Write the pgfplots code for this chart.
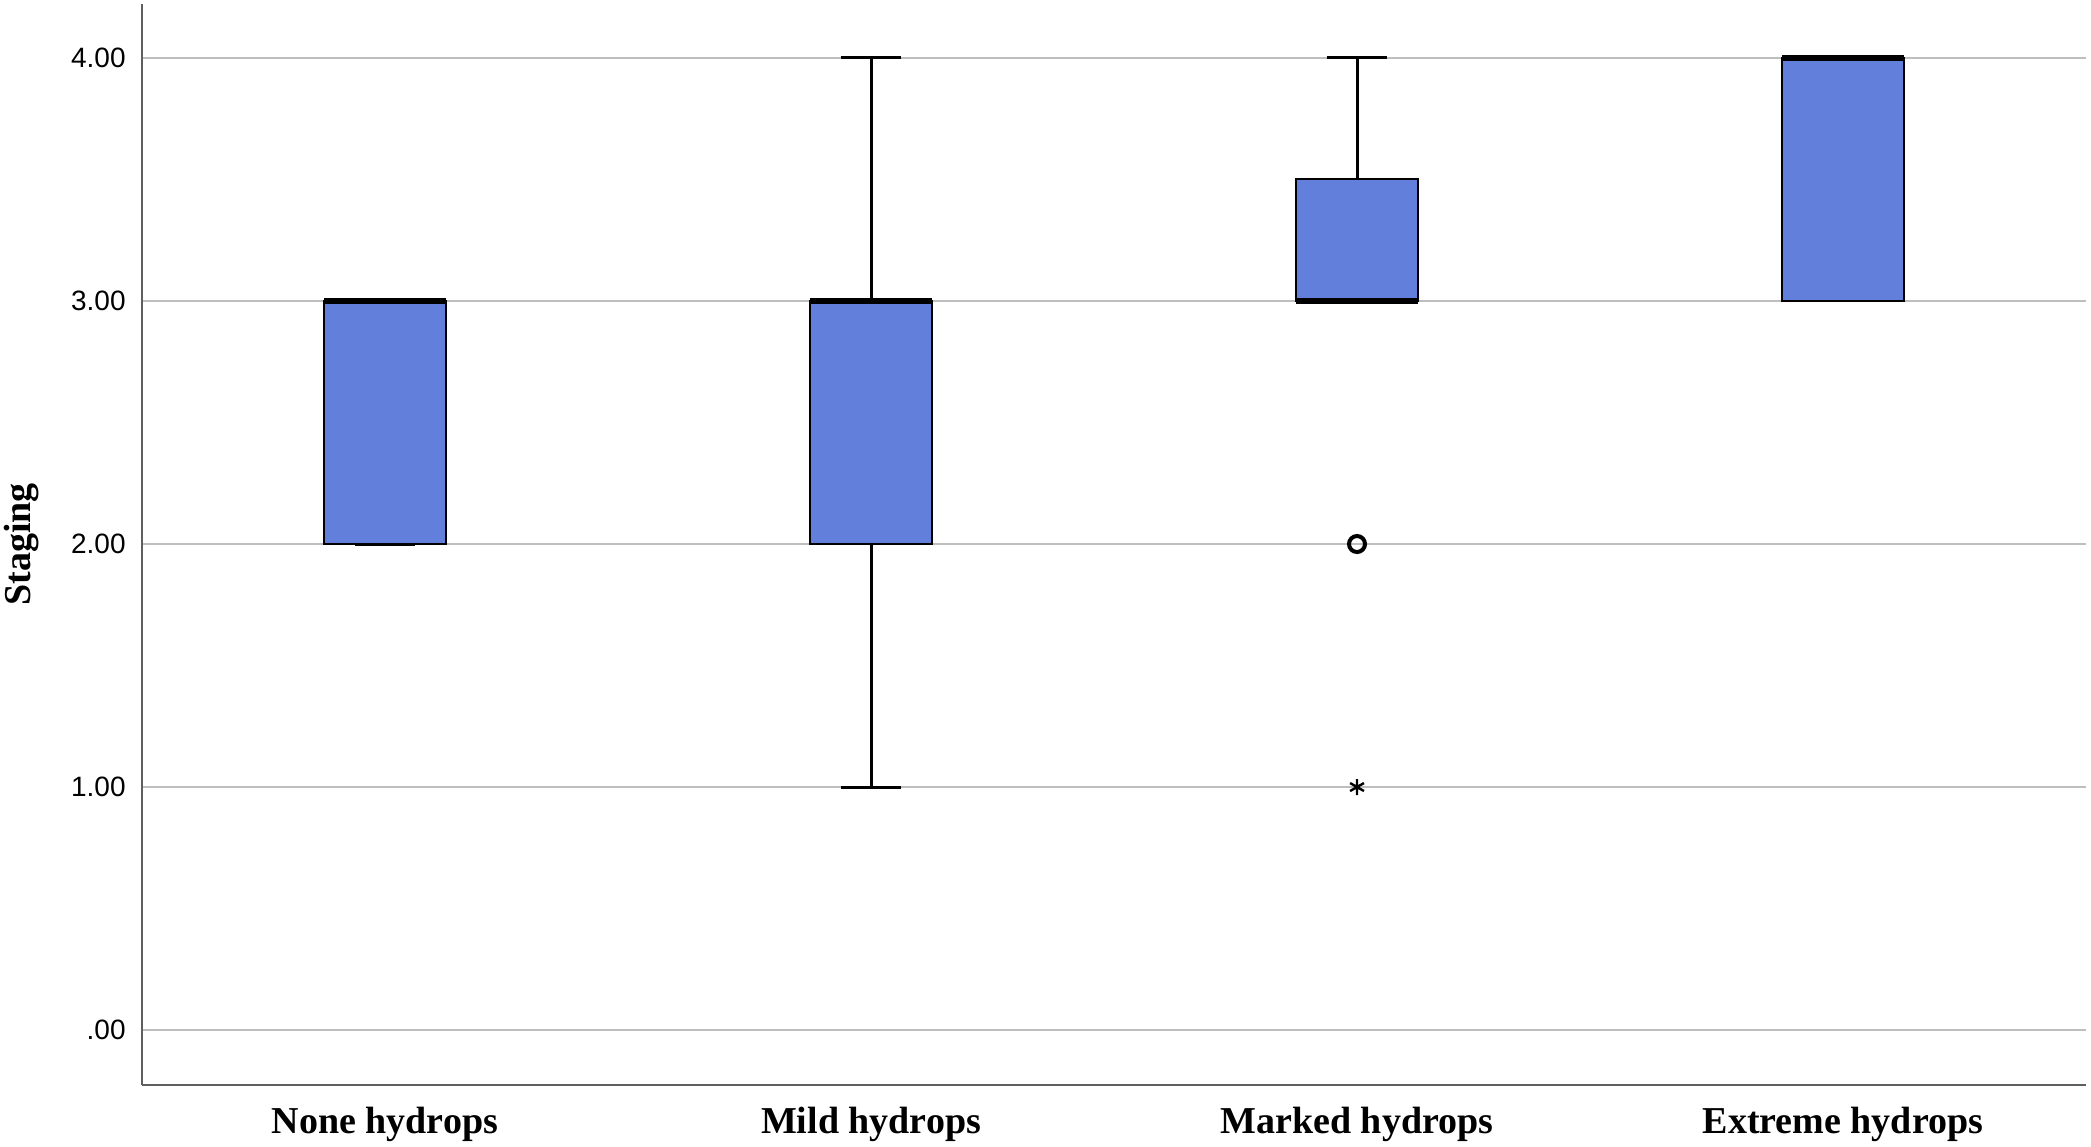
\documentclass[border=0pt]{standalone}
\usepackage{fontspec}
\setmainfont{Liberation Serif}
\newfontfamily\ticksf{Liberation Sans}
\usepackage{pgfplots}
\pgfplotsset{compat=1.18}
\usepgfplotslibrary{statistics}

\definecolor{boxblue}{RGB}{98,128,219}
\definecolor{gridgray}{RGB}{190,190,190}
\definecolor{axgray}{RGB}{95,95,95}

\begin{document}
\begin{tikzpicture}
\begin{axis}[
    name=ax,
    scale only axis,
    width=972pt, height=540.5pt,
    xmin=0.5, xmax=4.5,
    ymin=-0.226, ymax=4.222,
    axis x line=bottom, axis y line=left,
    axis line style={-, axgray, line width=1pt},
    major tick length=0pt,
    xtick={1,2,3,4},
    xticklabels={None hydrops, Mild hydrops, Marked hydrops, Extreme hydrops},
    xticklabel style={font=\bfseries\fontsize{19}{19}\selectfont, inner sep=0pt, anchor=north, yshift=-11pt},
    ytick={0,1,2,3,4},
    yticklabels={.00,1.00,2.00,3.00,4.00},
    yticklabel style={font=\ticksf\fontsize{14}{14}\selectfont, inner sep=0pt, anchor=east, xshift=-8pt},
    ylabel={Staging},
    every axis y label/.style={at={(axis description cs:0,0.5)}, rotate=90, anchor=center, yshift=60pt,
        font=\bfseries\fontsize{19}{19}\selectfont},
    ymajorgrids=true,
    grid style={gridgray, line width=1pt},
    boxplot/draw direction=y,
    boxplot/box extend=0.25,
    boxplot/whisker extend=0.125,
    boxplot/every box/.style={draw=black, fill=boxblue, line width=1pt},
    boxplot/every median/.style={draw=black, line width=2.8pt},
    boxplot/every whisker/.style={draw=black, line width=1.5pt},
]
% None hydrops
\addplot[boxplot prepared={draw position=1,
    lower whisker=2, lower quartile=2, median=3,
    upper quartile=3, upper whisker=3}] coordinates {};
% Mild hydrops
\addplot[boxplot prepared={draw position=2,
    lower whisker=1, lower quartile=2, median=3,
    upper quartile=3, upper whisker=4}] coordinates {};
% Marked hydrops
\addplot[boxplot prepared={draw position=3,
    lower whisker=3, lower quartile=3, median=3,
    upper quartile=3.5, upper whisker=4},
    mark=o, mark size=4pt, mark options={line width=2pt, black}] coordinates {(0,2)};
\addplot[only marks, mark=asterisk, mark size=4pt, mark options={line width=1.2pt, black}]
    coordinates {(3,1)};
% Extreme hydrops
\addplot[boxplot prepared={draw position=4,
    lower whisker=3, lower quartile=3, median=4,
    upper quartile=4, upper whisker=4}] coordinates {};
\end{axis}
\pgfresetboundingbox
\path ([xshift=-71pt,yshift=-30.5pt]ax.south west) rectangle ([xshift=2.5pt,yshift=2pt]ax.north east);
\end{tikzpicture}
\end{document}
